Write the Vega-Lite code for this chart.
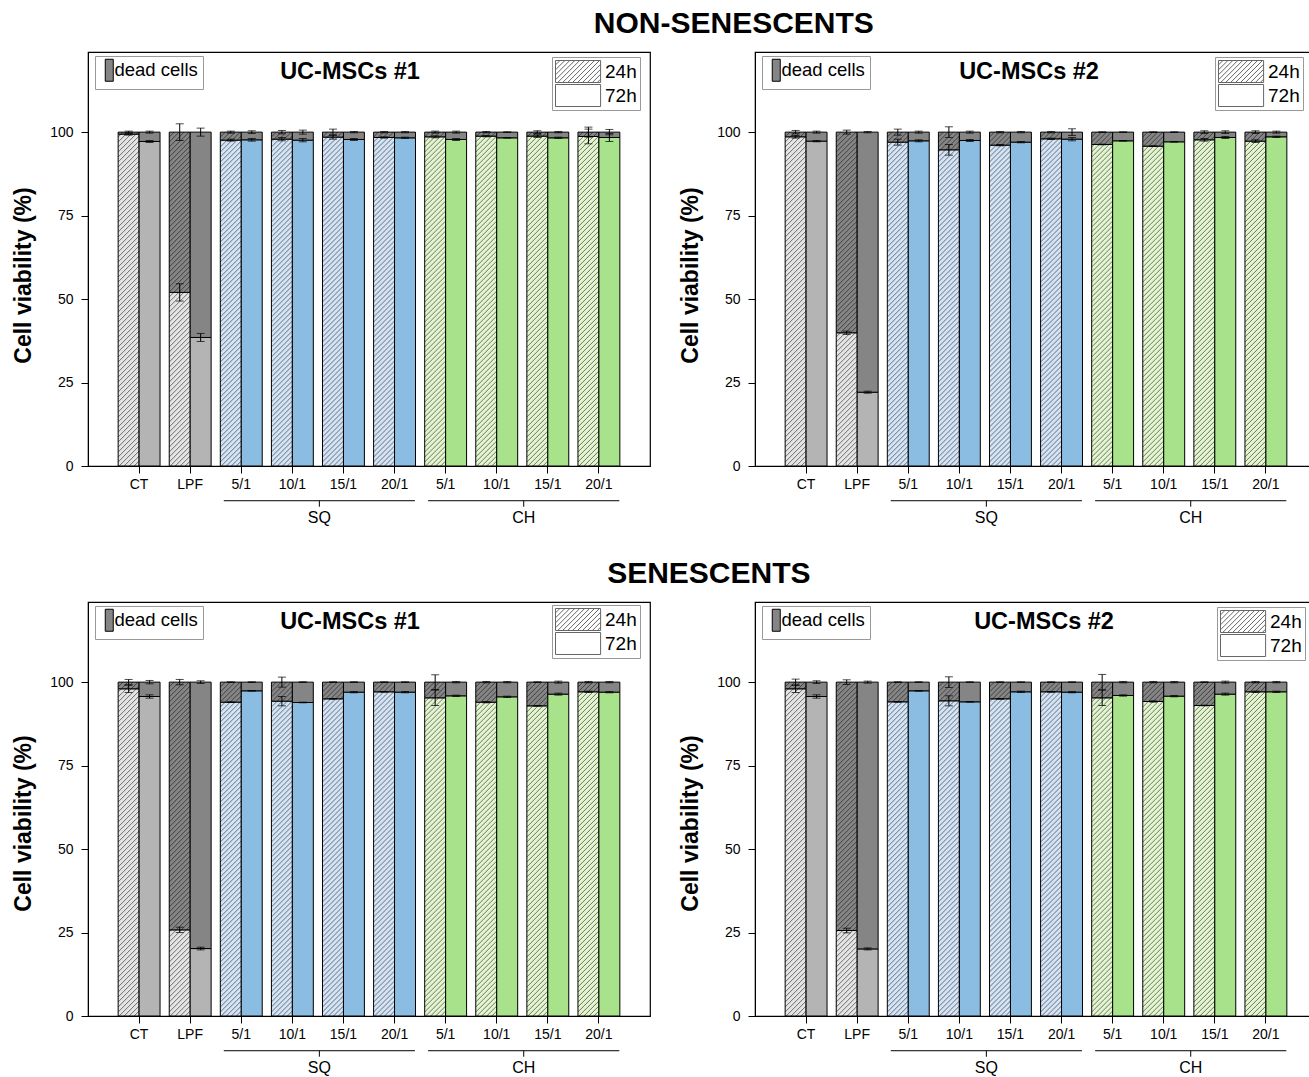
{
"$schema": "https://vega.github.io/schema/vega-lite/v6.json",
"background": "white",
"padding": {"left": 12, "top": 9, "right": 5, "bottom": 0},
"config": {
 "view": {"stroke": "black", "strokeWidth": 1.2},
 "font": "Liberation Sans",
 "axis": {"grid": false, "domainColor": "black", "tickColor": "black", "labelColor": "black", "titleColor": "black", "labelFont": "Liberation Sans Narrow, Liberation Sans", "labelFontSize": 14, "tickSize": 7, "domainWidth": 1, "tickWidth": 1},
 "legend": {"labelFont": "Liberation Sans Narrow, Liberation Sans", "labelFontSize": 19, "labelColor": "black", "strokeColor": "#999999", "fillColor": "white", "title": null}
},
"datasets": {
 "bars": [
{"p":"NS1","g":"CT","t":"24h","viable":99.4,"dead":0.6,"vlo":99.1,"vhi":99.7,"dlo":99.7,"dhi":100.3},
{"p":"NS1","g":"CT","t":"72h","viable":97.2,"dead":2.8,"vlo":96.9,"vhi":97.5,"dlo":99.7,"dhi":100.3},
{"p":"NS1","g":"LPF","t":"24h","viable":52.0,"dead":48.0,"vlo":49.4,"vhi":54.6,"dlo":97.5,"dhi":102.5},
{"p":"NS1","g":"LPF","t":"72h","viable":38.5,"dead":61.5,"vlo":37.3,"vhi":39.7,"dlo":98.8,"dhi":101.2},
{"p":"NS1","g":"5/1_SQ","t":"24h","viable":97.6,"dead":2.4,"vlo":97.3,"vhi":97.9,"dlo":99.7,"dhi":100.3},
{"p":"NS1","g":"5/1_SQ","t":"72h","viable":97.7,"dead":2.3,"vlo":97.3,"vhi":98.1,"dlo":99.6,"dhi":100.4},
{"p":"NS1","g":"10/1_SQ","t":"24h","viable":97.9,"dead":2.1,"vlo":97.4,"vhi":98.4,"dlo":99.5,"dhi":100.5},
{"p":"NS1","g":"10/1_SQ","t":"72h","viable":97.6,"dead":2.4,"vlo":97.1,"vhi":98.1,"dlo":99.4,"dhi":100.6},
{"p":"NS1","g":"15/1_SQ","t":"24h","viable":98.5,"dead":1.5,"vlo":97.9,"vhi":99.1,"dlo":99.1,"dhi":100.9},
{"p":"NS1","g":"15/1_SQ","t":"72h","viable":97.8,"dead":2.2,"vlo":97.5,"vhi":98.1,"dlo":99.8,"dhi":100.2},
{"p":"NS1","g":"20/1_SQ","t":"24h","viable":98.4,"dead":1.6,"vlo":98.2,"vhi":98.6,"dlo":99.8,"dhi":100.2},
{"p":"NS1","g":"20/1_SQ","t":"72h","viable":98.3,"dead":1.7,"vlo":98.1,"vhi":98.5,"dlo":99.8,"dhi":100.2},
{"p":"NS1","g":"5/1_CH","t":"24h","viable":98.6,"dead":1.4,"vlo":98.3,"vhi":98.9,"dlo":99.7,"dhi":100.3},
{"p":"NS1","g":"5/1_CH","t":"72h","viable":97.8,"dead":2.2,"vlo":97.5,"vhi":98.1,"dlo":99.7,"dhi":100.3},
{"p":"NS1","g":"10/1_CH","t":"24h","viable":98.8,"dead":1.2,"vlo":98.6,"vhi":99.0,"dlo":99.8,"dhi":100.2},
{"p":"NS1","g":"10/1_CH","t":"72h","viable":98.3,"dead":1.7,"vlo":98.2,"vhi":98.4,"dlo":99.9,"dhi":100.1},
{"p":"NS1","g":"15/1_CH","t":"24h","viable":98.8,"dead":1.2,"vlo":98.4,"vhi":99.2,"dlo":99.6,"dhi":100.4},
{"p":"NS1","g":"15/1_CH","t":"72h","viable":98.3,"dead":1.7,"vlo":98.1,"vhi":98.5,"dlo":99.8,"dhi":100.2},
{"p":"NS1","g":"20/1_CH","t":"24h","viable":98.7,"dead":1.3,"vlo":96.5,"vhi":100.9,"dlo":98.5,"dhi":101.5},
{"p":"NS1","g":"20/1_CH","t":"72h","viable":98.4,"dead":1.6,"vlo":97.2,"vhi":99.6,"dlo":99.2,"dhi":100.8},
{"p":"NS2","g":"CT","t":"24h","viable":98.6,"dead":1.4,"vlo":98.2,"vhi":99.0,"dlo":99.5,"dhi":100.5},
{"p":"NS2","g":"CT","t":"72h","viable":97.3,"dead":2.7,"vlo":97.1,"vhi":97.5,"dlo":99.7,"dhi":100.3},
{"p":"NS2","g":"LPF","t":"24h","viable":39.9,"dead":60.1,"vlo":39.4,"vhi":40.4,"dlo":99.4,"dhi":100.6},
{"p":"NS2","g":"LPF","t":"72h","viable":22.1,"dead":77.9,"vlo":21.8,"vhi":22.4,"dlo":99.8,"dhi":100.2},
{"p":"NS2","g":"5/1_SQ","t":"24h","viable":97.0,"dead":3.0,"vlo":96.1,"vhi":97.9,"dlo":99.1,"dhi":100.9},
{"p":"NS2","g":"5/1_SQ","t":"72h","viable":97.4,"dead":2.6,"vlo":97.1,"vhi":97.7,"dlo":99.7,"dhi":100.3},
{"p":"NS2","g":"10/1_SQ","t":"24h","viable":94.7,"dead":5.3,"vlo":93.1,"vhi":96.3,"dlo":98.4,"dhi":101.6},
{"p":"NS2","g":"10/1_SQ","t":"72h","viable":97.5,"dead":2.5,"vlo":97.2,"vhi":97.8,"dlo":99.7,"dhi":100.3},
{"p":"NS2","g":"15/1_SQ","t":"24h","viable":96.1,"dead":3.9,"vlo":95.9,"vhi":96.3,"dlo":99.8,"dhi":100.2},
{"p":"NS2","g":"15/1_SQ","t":"72h","viable":97.0,"dead":3.0,"vlo":96.8,"vhi":97.2,"dlo":99.8,"dhi":100.2},
{"p":"NS2","g":"20/1_SQ","t":"24h","viable":98.0,"dead":2.0,"vlo":97.8,"vhi":98.2,"dlo":99.8,"dhi":100.2},
{"p":"NS2","g":"20/1_SQ","t":"72h","viable":97.9,"dead":2.1,"vlo":97.4,"vhi":98.4,"dlo":99.0,"dhi":101.0},
{"p":"NS2","g":"5/1_CH","t":"24h","viable":96.3,"dead":3.7,"vlo":96.2,"vhi":96.4,"dlo":99.9,"dhi":100.1},
{"p":"NS2","g":"5/1_CH","t":"72h","viable":97.4,"dead":2.6,"vlo":97.3,"vhi":97.5,"dlo":99.9,"dhi":100.1},
{"p":"NS2","g":"10/1_CH","t":"24h","viable":95.8,"dead":4.2,"vlo":95.7,"vhi":95.9,"dlo":99.9,"dhi":100.1},
{"p":"NS2","g":"10/1_CH","t":"72h","viable":97.1,"dead":2.9,"vlo":97.0,"vhi":97.2,"dlo":99.9,"dhi":100.1},
{"p":"NS2","g":"15/1_CH","t":"24h","viable":97.7,"dead":2.3,"vlo":97.3,"vhi":98.1,"dlo":99.6,"dhi":100.4},
{"p":"NS2","g":"15/1_CH","t":"72h","viable":98.4,"dead":1.6,"vlo":98.1,"vhi":98.7,"dlo":99.6,"dhi":100.4},
{"p":"NS2","g":"20/1_CH","t":"24h","viable":97.3,"dead":2.7,"vlo":96.9,"vhi":97.7,"dlo":99.6,"dhi":100.4},
{"p":"NS2","g":"20/1_CH","t":"72h","viable":98.6,"dead":1.4,"vlo":98.4,"vhi":98.8,"dlo":99.7,"dhi":100.3},
{"p":"S1","g":"CT","t":"24h","viable":98.0,"dead":2.0,"vlo":96.9,"vhi":99.1,"dlo":99.2,"dhi":100.8},
{"p":"S1","g":"CT","t":"72h","viable":95.7,"dead":4.3,"vlo":95.2,"vhi":96.2,"dlo":99.5,"dhi":100.5},
{"p":"S1","g":"LPF","t":"24h","viable":25.8,"dead":74.2,"vlo":25.0,"vhi":26.6,"dlo":99.2,"dhi":100.8},
{"p":"S1","g":"LPF","t":"72h","viable":20.2,"dead":79.8,"vlo":19.8,"vhi":20.6,"dlo":99.6,"dhi":100.4},
{"p":"S1","g":"5/1_SQ","t":"24h","viable":94.0,"dead":6.0,"vlo":93.9,"vhi":94.1,"dlo":99.9,"dhi":100.1},
{"p":"S1","g":"5/1_SQ","t":"72h","viable":97.4,"dead":2.6,"vlo":97.3,"vhi":97.5,"dlo":99.9,"dhi":100.1},
{"p":"S1","g":"10/1_SQ","t":"24h","viable":94.3,"dead":5.7,"vlo":92.9,"vhi":95.7,"dlo":98.5,"dhi":101.5},
{"p":"S1","g":"10/1_SQ","t":"72h","viable":93.9,"dead":6.1,"vlo":93.8,"vhi":94.0,"dlo":99.9,"dhi":100.1},
{"p":"S1","g":"15/1_SQ","t":"24h","viable":95.0,"dead":5.0,"vlo":94.9,"vhi":95.1,"dlo":99.9,"dhi":100.1},
{"p":"S1","g":"15/1_SQ","t":"72h","viable":97.0,"dead":3.0,"vlo":96.8,"vhi":97.2,"dlo":99.9,"dhi":100.1},
{"p":"S1","g":"20/1_SQ","t":"24h","viable":97.1,"dead":2.9,"vlo":97.0,"vhi":97.2,"dlo":99.9,"dhi":100.1},
{"p":"S1","g":"20/1_SQ","t":"72h","viable":97.0,"dead":3.0,"vlo":96.8,"vhi":97.2,"dlo":99.9,"dhi":100.1},
{"p":"S1","g":"5/1_CH","t":"24h","viable":95.3,"dead":4.7,"vlo":93.0,"vhi":97.6,"dlo":97.8,"dhi":102.2},
{"p":"S1","g":"5/1_CH","t":"72h","viable":95.9,"dead":4.1,"vlo":95.7,"vhi":96.1,"dlo":99.8,"dhi":100.2},
{"p":"S1","g":"10/1_CH","t":"24h","viable":94.0,"dead":6.0,"vlo":93.8,"vhi":94.2,"dlo":99.8,"dhi":100.2},
{"p":"S1","g":"10/1_CH","t":"72h","viable":95.6,"dead":4.4,"vlo":95.4,"vhi":95.8,"dlo":99.8,"dhi":100.2},
{"p":"S1","g":"15/1_CH","t":"24h","viable":92.9,"dead":7.1,"vlo":92.8,"vhi":93.0,"dlo":99.9,"dhi":100.1},
{"p":"S1","g":"15/1_CH","t":"72h","viable":96.4,"dead":3.6,"vlo":96.1,"vhi":96.7,"dlo":99.7,"dhi":100.3},
{"p":"S1","g":"20/1_CH","t":"24h","viable":97.1,"dead":2.9,"vlo":96.9,"vhi":97.3,"dlo":99.8,"dhi":100.2},
{"p":"S1","g":"20/1_CH","t":"72h","viable":97.0,"dead":3.0,"vlo":96.8,"vhi":97.2,"dlo":99.8,"dhi":100.2},
{"p":"S2","g":"CT","t":"24h","viable":98.0,"dead":2.0,"vlo":96.9,"vhi":99.1,"dlo":99.1,"dhi":100.9},
{"p":"S2","g":"CT","t":"72h","viable":95.7,"dead":4.3,"vlo":95.2,"vhi":96.2,"dlo":99.6,"dhi":100.4},
{"p":"S2","g":"LPF","t":"24h","viable":25.6,"dead":74.4,"vlo":24.9,"vhi":26.3,"dlo":99.3,"dhi":100.7},
{"p":"S2","g":"LPF","t":"72h","viable":20.1,"dead":79.9,"vlo":19.8,"vhi":20.4,"dlo":99.7,"dhi":100.3},
{"p":"S2","g":"5/1_SQ","t":"24h","viable":94.1,"dead":5.9,"vlo":94.0,"vhi":94.2,"dlo":99.9,"dhi":100.1},
{"p":"S2","g":"5/1_SQ","t":"72h","viable":97.4,"dead":2.6,"vlo":97.3,"vhi":97.5,"dlo":99.9,"dhi":100.1},
{"p":"S2","g":"10/1_SQ","t":"24h","viable":94.4,"dead":5.6,"vlo":92.9,"vhi":95.9,"dlo":98.4,"dhi":101.6},
{"p":"S2","g":"10/1_SQ","t":"72h","viable":94.1,"dead":5.9,"vlo":94.0,"vhi":94.2,"dlo":99.9,"dhi":100.1},
{"p":"S2","g":"15/1_SQ","t":"24h","viable":95.0,"dead":5.0,"vlo":94.9,"vhi":95.1,"dlo":99.9,"dhi":100.1},
{"p":"S2","g":"15/1_SQ","t":"72h","viable":97.1,"dead":2.9,"vlo":96.9,"vhi":97.3,"dlo":99.9,"dhi":100.1},
{"p":"S2","g":"20/1_SQ","t":"24h","viable":97.1,"dead":2.9,"vlo":97.0,"vhi":97.2,"dlo":99.9,"dhi":100.1},
{"p":"S2","g":"20/1_SQ","t":"72h","viable":97.0,"dead":3.0,"vlo":96.8,"vhi":97.2,"dlo":99.9,"dhi":100.1},
{"p":"S2","g":"5/1_CH","t":"24h","viable":95.3,"dead":4.7,"vlo":93.0,"vhi":97.6,"dlo":97.7,"dhi":102.3},
{"p":"S2","g":"5/1_CH","t":"72h","viable":96.0,"dead":4.0,"vlo":95.8,"vhi":96.2,"dlo":99.8,"dhi":100.2},
{"p":"S2","g":"10/1_CH","t":"24h","viable":94.2,"dead":5.8,"vlo":94.0,"vhi":94.4,"dlo":99.8,"dhi":100.2},
{"p":"S2","g":"10/1_CH","t":"72h","viable":95.8,"dead":4.2,"vlo":95.6,"vhi":96.0,"dlo":99.8,"dhi":100.2},
{"p":"S2","g":"15/1_CH","t":"24h","viable":93.0,"dead":7.0,"vlo":92.9,"vhi":93.1,"dlo":99.9,"dhi":100.1},
{"p":"S2","g":"15/1_CH","t":"72h","viable":96.4,"dead":3.6,"vlo":96.1,"vhi":96.7,"dlo":99.7,"dhi":100.3},
{"p":"S2","g":"20/1_CH","t":"24h","viable":97.1,"dead":2.9,"vlo":96.9,"vhi":97.3,"dlo":99.8,"dhi":100.2},
{"p":"S2","g":"20/1_CH","t":"72h","viable":97.1,"dead":2.9,"vlo":96.9,"vhi":97.3,"dlo":99.8,"dhi":100.2}
 ],
 "brackets": [
  {"b":"SQ","from":"5/1_SQ","to":"20/1_SQ","mid":"10/1_SQ"},
  {"b":"CH","from":"5/1_CH","to":"20/1_CH","mid":"10/1_CH"}
 ]
},
"spacing": 32,
"resolve": {"scale": {"x": "independent", "y": "independent", "fill": "independent", "shape": "independent"}, "legend": {"fill": "independent", "shape": "independent"}},
"vconcat": [
{
 "title": {"text": "NON-SENESCENTS", "font": "Liberation Sans", "fontSize": 30, "fontWeight": "bold", "color": "black", "anchor": "middle", "dx": 69, "offset": 12},
 "spacing": 28,
 "resolve": {"scale": {"x": "independent", "y": "independent", "fill": "independent", "shape": "independent"}, "legend": {"fill": "independent", "shape": "independent"}},
 "hconcat": [
 {
  "width": 562, "height": 414,
  "title": {"text": "UC-MSCs #1", "anchor": "middle", "frame": "group", "offset": -43, "baseline": "middle", "dx": -19, "font": "Liberation Sans", "fontSize": 23.5, "fontWeight": "bold", "color": "black"},
  "layer": [
   {"data": {"name": "bars"},
    "transform": [{"filter": "datum.p=='NS1'"}, {"fold": ["viable", "dead"], "as": ["part", "value"]}, {"stack": "value", "groupby": ["g", "t"], "sort": [{"field": "part", "order": "descending"}], "as": ["y0", "y1"]}],
    "mark": {"type": "bar", "stroke": "black", "strokeWidth": 1},
    "encoding": {
     "x": {"field": "g", "type": "nominal", "scale": {"domain": ["CT","LPF","5/1_SQ","10/1_SQ","15/1_SQ","20/1_SQ","5/1_CH","10/1_CH","15/1_CH","20/1_CH"], "paddingInner": 0.18, "paddingOuter": 0.59}, "axis": {"title": null, "labelAngle": 0, "labelExpr": "split(datum.label,'_')[0]", "labelPadding": 4}},
     "xOffset": {"field": "t", "type": "nominal", "scale": {"domain": ["24h","72h"], "paddingInner": 0, "paddingOuter": 0}},
     "y": {"field": "y0", "type": "quantitative", "scale": {"domain": [0, 124], "nice": false}, "axis": {"values": [0,25,50,75,100], "title": "Cell viability (%)", "titleFont": "Liberation Sans", "titleFontSize": 23, "titleFontWeight": "bold", "titlePadding": 14, "titleY": 223, "labelPadding": 8}},
     "y2": {"field": "y1"},
     "fill": {"condition": [
       {"test": "datum.part=='viable' && (datum.g=='CT'||datum.g=='LPF') && datum.t=='24h'", "value": "#e4e4e4"},
       {"test": "datum.part=='viable' && (datum.g=='CT'||datum.g=='LPF')", "value": "#b4b4b4"},
       {"test": "datum.part=='viable' && indexof(datum.g,'SQ')>0 && datum.t=='24h'", "value": "#d4e4f7"},
       {"test": "datum.part=='viable' && indexof(datum.g,'SQ')>0", "value": "#8bbde2"},
       {"test": "datum.part=='viable' && datum.t=='24h'", "value": "#e2f5cf"},
       {"test": "datum.part=='viable'", "value": "#a8e38b"}],
      "field": "part", "type": "nominal", "scale": {"domain": ["dead"], "range": ["#858585"]},
      "legend": {"orient": "none", "legendX": 7, "legendY": 4, "labelExpr": "'dead cells'", "symbolType": "M-1,-2.75H1V2.75H-1Z", "symbolSize": 64, "symbolStrokeColor": "black", "symbolStrokeWidth": 1, "labelOffset": -4, "labelFontSize": 18.5, "padding": 5}}
    }},
   {"data": {"name": "bars"},
    "transform": [{"filter": "datum.p=='NS1' && datum.t=='24h'"}],
    "mark": {"type": "point", "shape": "M5.5 0l5-5M0.5 0l10-10M-4.5 0l15-15M-9.5 0l20-20M-10.5 -4l21-21M-10.5 -9l21-21M-10.5 -14l21-21M-10.5 -19l21-21M-10.5 -24l21-21M-10.5 -29l21-21M-10.5 -34l21-21M-10.5 -39l21-21M-10.5 -44l21-21M-10.5 -49l21-21M-10.5 -54l21-21M-10.5 -59l21-21M-10.5 -64l21-21M-10.5 -69l21-21M-10.5 -74l21-21M-10.5 -79l21-21M-10.5 -84l21-21M-10.5 -89l21-21M-10.5 -94l21-21M-10.5 -99l21-21M-10.5 -104l21-21M-10.5 -109l21-21M-10.5 -114l21-21M-10.5 -119l21-21M-10.5 -124l21-21M-10.5 -129l21-21M-10.5 -134l21-21M-10.5 -139l21-21M-10.5 -144l21-21M-10.5 -149l21-21M-10.5 -154l21-21M-10.5 -159l21-21M-10.5 -164l21-21M-10.5 -169l21-21M-10.5 -174l21-21M-10.5 -179l21-21M-10.5 -184l21-21M-10.5 -189l21-21M-10.5 -194l21-21M-10.5 -199l21-21M-10.5 -204l21-21M-10.5 -209l21-21M-10.5 -214l21-21M-10.5 -219l21-21M-10.5 -224l21-21M-10.5 -229l21-21M-10.5 -234l21-21M-10.5 -239l21-21M-10.5 -244l21-21M-10.5 -249l21-21M-10.5 -254l21-21M-10.5 -259l21-21M-10.5 -264l21-21M-10.5 -269l21-21M-10.5 -274l21-21M-10.5 -279l21-21M-10.5 -284l21-21M-10.5 -289l21-21M-10.5 -294l21-21M-10.5 -299l21-21M-10.5 -304l21-21M-10.5 -309l21-21M-10.5 -314l20-20M-10.5 -319l15-15M-10.5 -324l10-10M-10.5 -329l5-5", "size": 4, "filled": false, "stroke": "black", "strokeWidth": 0.8, "strokeOpacity": 0.65, "opacity": 1},
    "encoding": {"x": {"field": "g", "type": "nominal"}, "xOffset": {"field": "t", "type": "nominal"}, "y": {"datum": 0}}},
   {"data": {"name": "bars"}, "transform": [{"filter": "datum.p=='NS1'"}], "mark": {"type": "point", "size": 0, "filled": false, "color": "#666666", "opacity": 1},
    "encoding": {"x": {"field": "g", "type": "nominal"}, "xOffset": {"field": "t", "type": "nominal"}, "y": {"datum": 100},
     "shape": {"field": "t", "type": "nominal", "scale": {"domain": ["24h","72h"], "range": ["M-1,-1H3.1V1H-1ZM-1,-0.6L-0.6,-1M-1,-0.15L-0.15,-1M-1,0.3L0.3,-1M-1,0.75L0.75,-1M-0.8,1L1.2,-1M-0.35,1L1.65,-1M0.1,1L2.1,-1M0.55,1L2.55,-1M1,1L3,-1M1.45,1L3.1,-0.65M1.9,1L3.1,-0.2M2.35,1L3.1,0.25M2.8,1L3.1,0.7", "M-1,-1H3.1V1H-1Z"]},
      "legend": {"orient": "none", "legendX": 464, "legendY": 5, "symbolSize": 484, "symbolFillColor": "white", "symbolStrokeColor": "#666666", "symbolStrokeWidth": 1, "symbolOpacity": 1, "labelOffset": 27, "clipHeight": 23, "rowPadding": 1, "padding": 3}}}},
   {"data": {"name": "bars"}, "transform": [{"filter": "datum.p=='NS1'"}], "mark": {"type": "rule", "color": "black", "strokeWidth": 1},
    "encoding": {"x": {"field": "g", "type": "nominal"}, "xOffset": {"field": "t", "type": "nominal"}, "y": {"field": "vlo", "type": "quantitative"}, "y2": {"field": "vhi"}}},
   {"data": {"name": "bars"}, "transform": [{"filter": "datum.p=='NS1'"}], "mark": {"type": "rule", "color": "black", "strokeWidth": 1},
    "encoding": {"x": {"field": "g", "type": "nominal"}, "xOffset": {"field": "t", "type": "nominal"}, "y": {"field": "dlo", "type": "quantitative"}, "y2": {"field": "dhi"}}},
   {"data": {"name": "bars"}, "transform": [{"filter": "datum.p=='NS1'"}, {"fold": ["vlo","vhi","dlo","dhi"], "as": ["cap","cy"]}], "mark": {"type": "tick", "color": "black", "thickness": 1, "size": 8},
    "encoding": {"x": {"field": "g", "type": "nominal"}, "xOffset": {"field": "t", "type": "nominal"}, "y": {"field": "cy", "type": "quantitative"}}},
   {"data": {"name": "brackets"}, "mark": {"type": "rule", "color": "black", "strokeWidth": 1, "xOffset": -17.5, "x2Offset": 20.4},
    "encoding": {"x": {"field": "from", "type": "nominal"}, "x2": {"field": "to"}, "y": {"datum": -10.4}}},
   {"data": {"name": "brackets"}, "mark": {"type": "rule", "color": "black", "strokeWidth": 1, "xOffset": 27},
    "encoding": {"x": {"field": "mid", "type": "nominal"}, "y": {"datum": -10.4}, "y2": {"datum": -12.2}}},
   {"data": {"name": "brackets"}, "mark": {"type": "text", "dx": 27, "fontSize": 16, "font": "Liberation Sans Narrow, Liberation Sans", "color": "black", "baseline": "middle"},
    "encoding": {"x": {"field": "mid", "type": "nominal"}, "y": {"datum": -15.5}, "text": {"field": "b"}}}
  ]
 },
 {
  "width": 562, "height": 414,
  "title": {"text": "UC-MSCs #2", "anchor": "middle", "frame": "group", "offset": -43, "baseline": "middle", "dx": -7, "font": "Liberation Sans", "fontSize": 23.5, "fontWeight": "bold", "color": "black"},
  "layer": [
   {"data": {"name": "bars"},
    "transform": [{"filter": "datum.p=='NS2'"}, {"fold": ["viable", "dead"], "as": ["part", "value"]}, {"stack": "value", "groupby": ["g", "t"], "sort": [{"field": "part", "order": "descending"}], "as": ["y0", "y1"]}],
    "mark": {"type": "bar", "stroke": "black", "strokeWidth": 1},
    "encoding": {
     "x": {"field": "g", "type": "nominal", "scale": {"domain": ["CT","LPF","5/1_SQ","10/1_SQ","15/1_SQ","20/1_SQ","5/1_CH","10/1_CH","15/1_CH","20/1_CH"], "paddingInner": 0.18, "paddingOuter": 0.59}, "axis": {"title": null, "labelAngle": 0, "labelExpr": "split(datum.label,'_')[0]", "labelPadding": 4}},
     "xOffset": {"field": "t", "type": "nominal", "scale": {"domain": ["24h","72h"], "paddingInner": 0, "paddingOuter": 0}},
     "y": {"field": "y0", "type": "quantitative", "scale": {"domain": [0, 124], "nice": false}, "axis": {"values": [0,25,50,75,100], "title": "Cell viability (%)", "titleFont": "Liberation Sans", "titleFontSize": 23, "titleFontWeight": "bold", "titlePadding": 14, "titleY": 223, "labelPadding": 8}},
     "y2": {"field": "y1"},
     "fill": {"condition": [
       {"test": "datum.part=='viable' && (datum.g=='CT'||datum.g=='LPF') && datum.t=='24h'", "value": "#e4e4e4"},
       {"test": "datum.part=='viable' && (datum.g=='CT'||datum.g=='LPF')", "value": "#b4b4b4"},
       {"test": "datum.part=='viable' && indexof(datum.g,'SQ')>0 && datum.t=='24h'", "value": "#d4e4f7"},
       {"test": "datum.part=='viable' && indexof(datum.g,'SQ')>0", "value": "#8bbde2"},
       {"test": "datum.part=='viable' && datum.t=='24h'", "value": "#e2f5cf"},
       {"test": "datum.part=='viable'", "value": "#a8e38b"}],
      "field": "part", "type": "nominal", "scale": {"domain": ["dead"], "range": ["#858585"]},
      "legend": {"orient": "none", "legendX": 7, "legendY": 4, "labelExpr": "'dead cells'", "symbolType": "M-1,-2.75H1V2.75H-1Z", "symbolSize": 64, "symbolStrokeColor": "black", "symbolStrokeWidth": 1, "labelOffset": -4, "labelFontSize": 18.5, "padding": 5}}
    }},
   {"data": {"name": "bars"},
    "transform": [{"filter": "datum.p=='NS2' && datum.t=='24h'"}],
    "mark": {"type": "point", "shape": "M5.5 0l5-5M0.5 0l10-10M-4.5 0l15-15M-9.5 0l20-20M-10.5 -4l21-21M-10.5 -9l21-21M-10.5 -14l21-21M-10.5 -19l21-21M-10.5 -24l21-21M-10.5 -29l21-21M-10.5 -34l21-21M-10.5 -39l21-21M-10.5 -44l21-21M-10.5 -49l21-21M-10.5 -54l21-21M-10.5 -59l21-21M-10.5 -64l21-21M-10.5 -69l21-21M-10.5 -74l21-21M-10.5 -79l21-21M-10.5 -84l21-21M-10.5 -89l21-21M-10.5 -94l21-21M-10.5 -99l21-21M-10.5 -104l21-21M-10.5 -109l21-21M-10.5 -114l21-21M-10.5 -119l21-21M-10.5 -124l21-21M-10.5 -129l21-21M-10.5 -134l21-21M-10.5 -139l21-21M-10.5 -144l21-21M-10.5 -149l21-21M-10.5 -154l21-21M-10.5 -159l21-21M-10.5 -164l21-21M-10.5 -169l21-21M-10.5 -174l21-21M-10.5 -179l21-21M-10.5 -184l21-21M-10.5 -189l21-21M-10.5 -194l21-21M-10.5 -199l21-21M-10.5 -204l21-21M-10.5 -209l21-21M-10.5 -214l21-21M-10.5 -219l21-21M-10.5 -224l21-21M-10.5 -229l21-21M-10.5 -234l21-21M-10.5 -239l21-21M-10.5 -244l21-21M-10.5 -249l21-21M-10.5 -254l21-21M-10.5 -259l21-21M-10.5 -264l21-21M-10.5 -269l21-21M-10.5 -274l21-21M-10.5 -279l21-21M-10.5 -284l21-21M-10.5 -289l21-21M-10.5 -294l21-21M-10.5 -299l21-21M-10.5 -304l21-21M-10.5 -309l21-21M-10.5 -314l20-20M-10.5 -319l15-15M-10.5 -324l10-10M-10.5 -329l5-5", "size": 4, "filled": false, "stroke": "black", "strokeWidth": 0.8, "strokeOpacity": 0.65, "opacity": 1},
    "encoding": {"x": {"field": "g", "type": "nominal"}, "xOffset": {"field": "t", "type": "nominal"}, "y": {"datum": 0}}},
   {"data": {"name": "bars"}, "transform": [{"filter": "datum.p=='NS2'"}], "mark": {"type": "point", "size": 0, "filled": false, "color": "#666666", "opacity": 1},
    "encoding": {"x": {"field": "g", "type": "nominal"}, "xOffset": {"field": "t", "type": "nominal"}, "y": {"datum": 100},
     "shape": {"field": "t", "type": "nominal", "scale": {"domain": ["24h","72h"], "range": ["M-1,-1H3.1V1H-1ZM-1,-0.6L-0.6,-1M-1,-0.15L-0.15,-1M-1,0.3L0.3,-1M-1,0.75L0.75,-1M-0.8,1L1.2,-1M-0.35,1L1.65,-1M0.1,1L2.1,-1M0.55,1L2.55,-1M1,1L3,-1M1.45,1L3.1,-0.65M1.9,1L3.1,-0.2M2.35,1L3.1,0.25M2.8,1L3.1,0.7", "M-1,-1H3.1V1H-1Z"]},
      "legend": {"orient": "none", "legendX": 460, "legendY": 5, "symbolSize": 484, "symbolFillColor": "white", "symbolStrokeColor": "#666666", "symbolStrokeWidth": 1, "symbolOpacity": 1, "labelOffset": 27, "clipHeight": 23, "rowPadding": 1, "padding": 3}}}},
   {"data": {"name": "bars"}, "transform": [{"filter": "datum.p=='NS2'"}], "mark": {"type": "rule", "color": "black", "strokeWidth": 1},
    "encoding": {"x": {"field": "g", "type": "nominal"}, "xOffset": {"field": "t", "type": "nominal"}, "y": {"field": "vlo", "type": "quantitative"}, "y2": {"field": "vhi"}}},
   {"data": {"name": "bars"}, "transform": [{"filter": "datum.p=='NS2'"}], "mark": {"type": "rule", "color": "black", "strokeWidth": 1},
    "encoding": {"x": {"field": "g", "type": "nominal"}, "xOffset": {"field": "t", "type": "nominal"}, "y": {"field": "dlo", "type": "quantitative"}, "y2": {"field": "dhi"}}},
   {"data": {"name": "bars"}, "transform": [{"filter": "datum.p=='NS2'"}, {"fold": ["vlo","vhi","dlo","dhi"], "as": ["cap","cy"]}], "mark": {"type": "tick", "color": "black", "thickness": 1, "size": 8},
    "encoding": {"x": {"field": "g", "type": "nominal"}, "xOffset": {"field": "t", "type": "nominal"}, "y": {"field": "cy", "type": "quantitative"}}},
   {"data": {"name": "brackets"}, "mark": {"type": "rule", "color": "black", "strokeWidth": 1, "xOffset": -17.5, "x2Offset": 20.4},
    "encoding": {"x": {"field": "from", "type": "nominal"}, "x2": {"field": "to"}, "y": {"datum": -10.4}}},
   {"data": {"name": "brackets"}, "mark": {"type": "rule", "color": "black", "strokeWidth": 1, "xOffset": 27},
    "encoding": {"x": {"field": "mid", "type": "nominal"}, "y": {"datum": -10.4}, "y2": {"datum": -12.2}}},
   {"data": {"name": "brackets"}, "mark": {"type": "text", "dx": 27, "fontSize": 16, "font": "Liberation Sans Narrow, Liberation Sans", "color": "black", "baseline": "middle"},
    "encoding": {"x": {"field": "mid", "type": "nominal"}, "y": {"datum": -15.5}, "text": {"field": "b"}}}
  ]
 }
 ]
},
{
 "title": {"text": "SENESCENTS", "font": "Liberation Sans", "fontSize": 30, "fontWeight": "bold", "color": "black", "anchor": "middle", "dx": 44, "offset": 12},
 "spacing": 28,
 "resolve": {"scale": {"x": "independent", "y": "independent", "fill": "independent", "shape": "independent"}, "legend": {"fill": "independent", "shape": "independent"}},
 "hconcat": [
 {
  "width": 562, "height": 414,
  "title": {"text": "UC-MSCs #1", "anchor": "middle", "frame": "group", "offset": -43, "baseline": "middle", "dx": -19, "font": "Liberation Sans", "fontSize": 23.5, "fontWeight": "bold", "color": "black"},
  "layer": [
   {"data": {"name": "bars"},
    "transform": [{"filter": "datum.p=='S1'"}, {"fold": ["viable", "dead"], "as": ["part", "value"]}, {"stack": "value", "groupby": ["g", "t"], "sort": [{"field": "part", "order": "descending"}], "as": ["y0", "y1"]}],
    "mark": {"type": "bar", "stroke": "black", "strokeWidth": 1},
    "encoding": {
     "x": {"field": "g", "type": "nominal", "scale": {"domain": ["CT","LPF","5/1_SQ","10/1_SQ","15/1_SQ","20/1_SQ","5/1_CH","10/1_CH","15/1_CH","20/1_CH"], "paddingInner": 0.18, "paddingOuter": 0.59}, "axis": {"title": null, "labelAngle": 0, "labelExpr": "split(datum.label,'_')[0]", "labelPadding": 4}},
     "xOffset": {"field": "t", "type": "nominal", "scale": {"domain": ["24h","72h"], "paddingInner": 0, "paddingOuter": 0}},
     "y": {"field": "y0", "type": "quantitative", "scale": {"domain": [0, 124], "nice": false}, "axis": {"values": [0,25,50,75,100], "title": "Cell viability (%)", "titleFont": "Liberation Sans", "titleFontSize": 23, "titleFontWeight": "bold", "titlePadding": 14, "titleY": 221, "labelPadding": 8}},
     "y2": {"field": "y1"},
     "fill": {"condition": [
       {"test": "datum.part=='viable' && (datum.g=='CT'||datum.g=='LPF') && datum.t=='24h'", "value": "#e4e4e4"},
       {"test": "datum.part=='viable' && (datum.g=='CT'||datum.g=='LPF')", "value": "#b4b4b4"},
       {"test": "datum.part=='viable' && indexof(datum.g,'SQ')>0 && datum.t=='24h'", "value": "#d4e4f7"},
       {"test": "datum.part=='viable' && indexof(datum.g,'SQ')>0", "value": "#8bbde2"},
       {"test": "datum.part=='viable' && datum.t=='24h'", "value": "#e2f5cf"},
       {"test": "datum.part=='viable'", "value": "#a8e38b"}],
      "field": "part", "type": "nominal", "scale": {"domain": ["dead"], "range": ["#858585"]},
      "legend": {"orient": "none", "legendX": 7, "legendY": 4, "labelExpr": "'dead cells'", "symbolType": "M-1,-2.75H1V2.75H-1Z", "symbolSize": 64, "symbolStrokeColor": "black", "symbolStrokeWidth": 1, "labelOffset": -4, "labelFontSize": 18.5, "padding": 5}}
    }},
   {"data": {"name": "bars"},
    "transform": [{"filter": "datum.p=='S1' && datum.t=='24h'"}],
    "mark": {"type": "point", "shape": "M5.5 0l5-5M0.5 0l10-10M-4.5 0l15-15M-9.5 0l20-20M-10.5 -4l21-21M-10.5 -9l21-21M-10.5 -14l21-21M-10.5 -19l21-21M-10.5 -24l21-21M-10.5 -29l21-21M-10.5 -34l21-21M-10.5 -39l21-21M-10.5 -44l21-21M-10.5 -49l21-21M-10.5 -54l21-21M-10.5 -59l21-21M-10.5 -64l21-21M-10.5 -69l21-21M-10.5 -74l21-21M-10.5 -79l21-21M-10.5 -84l21-21M-10.5 -89l21-21M-10.5 -94l21-21M-10.5 -99l21-21M-10.5 -104l21-21M-10.5 -109l21-21M-10.5 -114l21-21M-10.5 -119l21-21M-10.5 -124l21-21M-10.5 -129l21-21M-10.5 -134l21-21M-10.5 -139l21-21M-10.5 -144l21-21M-10.5 -149l21-21M-10.5 -154l21-21M-10.5 -159l21-21M-10.5 -164l21-21M-10.5 -169l21-21M-10.5 -174l21-21M-10.5 -179l21-21M-10.5 -184l21-21M-10.5 -189l21-21M-10.5 -194l21-21M-10.5 -199l21-21M-10.5 -204l21-21M-10.5 -209l21-21M-10.5 -214l21-21M-10.5 -219l21-21M-10.5 -224l21-21M-10.5 -229l21-21M-10.5 -234l21-21M-10.5 -239l21-21M-10.5 -244l21-21M-10.5 -249l21-21M-10.5 -254l21-21M-10.5 -259l21-21M-10.5 -264l21-21M-10.5 -269l21-21M-10.5 -274l21-21M-10.5 -279l21-21M-10.5 -284l21-21M-10.5 -289l21-21M-10.5 -294l21-21M-10.5 -299l21-21M-10.5 -304l21-21M-10.5 -309l21-21M-10.5 -314l20-20M-10.5 -319l15-15M-10.5 -324l10-10M-10.5 -329l5-5", "size": 4, "filled": false, "stroke": "black", "strokeWidth": 0.8, "strokeOpacity": 0.65, "opacity": 1},
    "encoding": {"x": {"field": "g", "type": "nominal"}, "xOffset": {"field": "t", "type": "nominal"}, "y": {"datum": 0}}},
   {"data": {"name": "bars"}, "transform": [{"filter": "datum.p=='S1'"}], "mark": {"type": "point", "size": 0, "filled": false, "color": "#666666", "opacity": 1},
    "encoding": {"x": {"field": "g", "type": "nominal"}, "xOffset": {"field": "t", "type": "nominal"}, "y": {"datum": 100},
     "shape": {"field": "t", "type": "nominal", "scale": {"domain": ["24h","72h"], "range": ["M-1,-1H3.1V1H-1ZM-1,-0.6L-0.6,-1M-1,-0.15L-0.15,-1M-1,0.3L0.3,-1M-1,0.75L0.75,-1M-0.8,1L1.2,-1M-0.35,1L1.65,-1M0.1,1L2.1,-1M0.55,1L2.55,-1M1,1L3,-1M1.45,1L3.1,-0.65M1.9,1L3.1,-0.2M2.35,1L3.1,0.25M2.8,1L3.1,0.7", "M-1,-1H3.1V1H-1Z"]},
      "legend": {"orient": "none", "legendX": 464, "legendY": 3, "symbolSize": 484, "symbolFillColor": "white", "symbolStrokeColor": "#666666", "symbolStrokeWidth": 1, "symbolOpacity": 1, "labelOffset": 27, "clipHeight": 23, "rowPadding": 1, "padding": 3}}}},
   {"data": {"name": "bars"}, "transform": [{"filter": "datum.p=='S1'"}], "mark": {"type": "rule", "color": "black", "strokeWidth": 1},
    "encoding": {"x": {"field": "g", "type": "nominal"}, "xOffset": {"field": "t", "type": "nominal"}, "y": {"field": "vlo", "type": "quantitative"}, "y2": {"field": "vhi"}}},
   {"data": {"name": "bars"}, "transform": [{"filter": "datum.p=='S1'"}], "mark": {"type": "rule", "color": "black", "strokeWidth": 1},
    "encoding": {"x": {"field": "g", "type": "nominal"}, "xOffset": {"field": "t", "type": "nominal"}, "y": {"field": "dlo", "type": "quantitative"}, "y2": {"field": "dhi"}}},
   {"data": {"name": "bars"}, "transform": [{"filter": "datum.p=='S1'"}, {"fold": ["vlo","vhi","dlo","dhi"], "as": ["cap","cy"]}], "mark": {"type": "tick", "color": "black", "thickness": 1, "size": 8},
    "encoding": {"x": {"field": "g", "type": "nominal"}, "xOffset": {"field": "t", "type": "nominal"}, "y": {"field": "cy", "type": "quantitative"}}},
   {"data": {"name": "brackets"}, "mark": {"type": "rule", "color": "black", "strokeWidth": 1, "xOffset": -17.5, "x2Offset": 20.4},
    "encoding": {"x": {"field": "from", "type": "nominal"}, "x2": {"field": "to"}, "y": {"datum": -10.4}}},
   {"data": {"name": "brackets"}, "mark": {"type": "rule", "color": "black", "strokeWidth": 1, "xOffset": 27},
    "encoding": {"x": {"field": "mid", "type": "nominal"}, "y": {"datum": -10.4}, "y2": {"datum": -12.2}}},
   {"data": {"name": "brackets"}, "mark": {"type": "text", "dx": 27, "fontSize": 16, "font": "Liberation Sans Narrow, Liberation Sans", "color": "black", "baseline": "middle"},
    "encoding": {"x": {"field": "mid", "type": "nominal"}, "y": {"datum": -15.5}, "text": {"field": "b"}}}
  ]
 },
 {
  "width": 562, "height": 414,
  "title": {"text": "UC-MSCs #2", "anchor": "middle", "frame": "group", "offset": -43, "baseline": "middle", "dx": 8, "font": "Liberation Sans", "fontSize": 23.5, "fontWeight": "bold", "color": "black"},
  "layer": [
   {"data": {"name": "bars"},
    "transform": [{"filter": "datum.p=='S2'"}, {"fold": ["viable", "dead"], "as": ["part", "value"]}, {"stack": "value", "groupby": ["g", "t"], "sort": [{"field": "part", "order": "descending"}], "as": ["y0", "y1"]}],
    "mark": {"type": "bar", "stroke": "black", "strokeWidth": 1},
    "encoding": {
     "x": {"field": "g", "type": "nominal", "scale": {"domain": ["CT","LPF","5/1_SQ","10/1_SQ","15/1_SQ","20/1_SQ","5/1_CH","10/1_CH","15/1_CH","20/1_CH"], "paddingInner": 0.18, "paddingOuter": 0.59}, "axis": {"title": null, "labelAngle": 0, "labelExpr": "split(datum.label,'_')[0]", "labelPadding": 4}},
     "xOffset": {"field": "t", "type": "nominal", "scale": {"domain": ["24h","72h"], "paddingInner": 0, "paddingOuter": 0}},
     "y": {"field": "y0", "type": "quantitative", "scale": {"domain": [0, 124], "nice": false}, "axis": {"values": [0,25,50,75,100], "title": "Cell viability (%)", "titleFont": "Liberation Sans", "titleFontSize": 23, "titleFontWeight": "bold", "titlePadding": 14, "titleY": 221, "labelPadding": 8}},
     "y2": {"field": "y1"},
     "fill": {"condition": [
       {"test": "datum.part=='viable' && (datum.g=='CT'||datum.g=='LPF') && datum.t=='24h'", "value": "#e4e4e4"},
       {"test": "datum.part=='viable' && (datum.g=='CT'||datum.g=='LPF')", "value": "#b4b4b4"},
       {"test": "datum.part=='viable' && indexof(datum.g,'SQ')>0 && datum.t=='24h'", "value": "#d4e4f7"},
       {"test": "datum.part=='viable' && indexof(datum.g,'SQ')>0", "value": "#8bbde2"},
       {"test": "datum.part=='viable' && datum.t=='24h'", "value": "#e2f5cf"},
       {"test": "datum.part=='viable'", "value": "#a8e38b"}],
      "field": "part", "type": "nominal", "scale": {"domain": ["dead"], "range": ["#858585"]},
      "legend": {"orient": "none", "legendX": 7, "legendY": 4, "labelExpr": "'dead cells'", "symbolType": "M-1,-2.75H1V2.75H-1Z", "symbolSize": 64, "symbolStrokeColor": "black", "symbolStrokeWidth": 1, "labelOffset": -4, "labelFontSize": 18.5, "padding": 5}}
    }},
   {"data": {"name": "bars"},
    "transform": [{"filter": "datum.p=='S2' && datum.t=='24h'"}],
    "mark": {"type": "point", "shape": "M5.5 0l5-5M0.5 0l10-10M-4.5 0l15-15M-9.5 0l20-20M-10.5 -4l21-21M-10.5 -9l21-21M-10.5 -14l21-21M-10.5 -19l21-21M-10.5 -24l21-21M-10.5 -29l21-21M-10.5 -34l21-21M-10.5 -39l21-21M-10.5 -44l21-21M-10.5 -49l21-21M-10.5 -54l21-21M-10.5 -59l21-21M-10.5 -64l21-21M-10.5 -69l21-21M-10.5 -74l21-21M-10.5 -79l21-21M-10.5 -84l21-21M-10.5 -89l21-21M-10.5 -94l21-21M-10.5 -99l21-21M-10.5 -104l21-21M-10.5 -109l21-21M-10.5 -114l21-21M-10.5 -119l21-21M-10.5 -124l21-21M-10.5 -129l21-21M-10.5 -134l21-21M-10.5 -139l21-21M-10.5 -144l21-21M-10.5 -149l21-21M-10.5 -154l21-21M-10.5 -159l21-21M-10.5 -164l21-21M-10.5 -169l21-21M-10.5 -174l21-21M-10.5 -179l21-21M-10.5 -184l21-21M-10.5 -189l21-21M-10.5 -194l21-21M-10.5 -199l21-21M-10.5 -204l21-21M-10.5 -209l21-21M-10.5 -214l21-21M-10.5 -219l21-21M-10.5 -224l21-21M-10.5 -229l21-21M-10.5 -234l21-21M-10.5 -239l21-21M-10.5 -244l21-21M-10.5 -249l21-21M-10.5 -254l21-21M-10.5 -259l21-21M-10.5 -264l21-21M-10.5 -269l21-21M-10.5 -274l21-21M-10.5 -279l21-21M-10.5 -284l21-21M-10.5 -289l21-21M-10.5 -294l21-21M-10.5 -299l21-21M-10.5 -304l21-21M-10.5 -309l21-21M-10.5 -314l20-20M-10.5 -319l15-15M-10.5 -324l10-10M-10.5 -329l5-5", "size": 4, "filled": false, "stroke": "black", "strokeWidth": 0.8, "strokeOpacity": 0.65, "opacity": 1},
    "encoding": {"x": {"field": "g", "type": "nominal"}, "xOffset": {"field": "t", "type": "nominal"}, "y": {"datum": 0}}},
   {"data": {"name": "bars"}, "transform": [{"filter": "datum.p=='S2'"}], "mark": {"type": "point", "size": 0, "filled": false, "color": "#666666", "opacity": 1},
    "encoding": {"x": {"field": "g", "type": "nominal"}, "xOffset": {"field": "t", "type": "nominal"}, "y": {"datum": 100},
     "shape": {"field": "t", "type": "nominal", "scale": {"domain": ["24h","72h"], "range": ["M-1,-1H3.1V1H-1ZM-1,-0.6L-0.6,-1M-1,-0.15L-0.15,-1M-1,0.3L0.3,-1M-1,0.75L0.75,-1M-0.8,1L1.2,-1M-0.35,1L1.65,-1M0.1,1L2.1,-1M0.55,1L2.55,-1M1,1L3,-1M1.45,1L3.1,-0.65M1.9,1L3.1,-0.2M2.35,1L3.1,0.25M2.8,1L3.1,0.7", "M-1,-1H3.1V1H-1Z"]},
      "legend": {"orient": "none", "legendX": 462, "legendY": 5, "symbolSize": 484, "symbolFillColor": "white", "symbolStrokeColor": "#666666", "symbolStrokeWidth": 1, "symbolOpacity": 1, "labelOffset": 27, "clipHeight": 23, "rowPadding": 1, "padding": 3}}}},
   {"data": {"name": "bars"}, "transform": [{"filter": "datum.p=='S2'"}], "mark": {"type": "rule", "color": "black", "strokeWidth": 1},
    "encoding": {"x": {"field": "g", "type": "nominal"}, "xOffset": {"field": "t", "type": "nominal"}, "y": {"field": "vlo", "type": "quantitative"}, "y2": {"field": "vhi"}}},
   {"data": {"name": "bars"}, "transform": [{"filter": "datum.p=='S2'"}], "mark": {"type": "rule", "color": "black", "strokeWidth": 1},
    "encoding": {"x": {"field": "g", "type": "nominal"}, "xOffset": {"field": "t", "type": "nominal"}, "y": {"field": "dlo", "type": "quantitative"}, "y2": {"field": "dhi"}}},
   {"data": {"name": "bars"}, "transform": [{"filter": "datum.p=='S2'"}, {"fold": ["vlo","vhi","dlo","dhi"], "as": ["cap","cy"]}], "mark": {"type": "tick", "color": "black", "thickness": 1, "size": 8},
    "encoding": {"x": {"field": "g", "type": "nominal"}, "xOffset": {"field": "t", "type": "nominal"}, "y": {"field": "cy", "type": "quantitative"}}},
   {"data": {"name": "brackets"}, "mark": {"type": "rule", "color": "black", "strokeWidth": 1, "xOffset": -17.5, "x2Offset": 20.4},
    "encoding": {"x": {"field": "from", "type": "nominal"}, "x2": {"field": "to"}, "y": {"datum": -10.4}}},
   {"data": {"name": "brackets"}, "mark": {"type": "rule", "color": "black", "strokeWidth": 1, "xOffset": 27},
    "encoding": {"x": {"field": "mid", "type": "nominal"}, "y": {"datum": -10.4}, "y2": {"datum": -12.2}}},
   {"data": {"name": "brackets"}, "mark": {"type": "text", "dx": 27, "fontSize": 16, "font": "Liberation Sans Narrow, Liberation Sans", "color": "black", "baseline": "middle"},
    "encoding": {"x": {"field": "mid", "type": "nominal"}, "y": {"datum": -15.5}, "text": {"field": "b"}}}
  ]
 }
 ]
}
]
}
